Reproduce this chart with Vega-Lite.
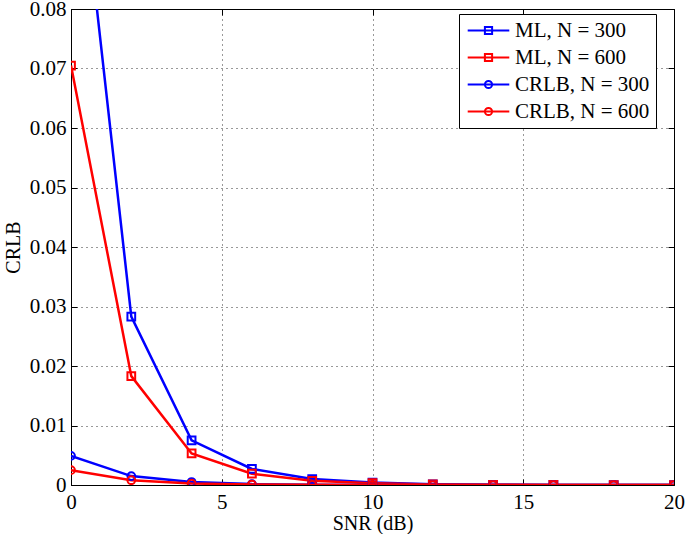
{
  "$schema": "https://vega.github.io/schema/vega-lite/v6.json",
  "autosize": {"type": "none"},
  "padding": {"left": 71, "top": 9, "right": 11, "bottom": 49},
  "width": 603,
  "height": 476,
  "background": "white",
  "config": {
    "font": "Liberation Serif",
    "view": {"stroke": "black", "strokeWidth": 1},
    "axis": {
      "labelFont": "Liberation Serif",
      "titleFont": "Liberation Serif",
      "labelFontSize": 21,
      "titleFontSize": 20,
      "titleFontWeight": "normal",
      "labelColor": "black",
      "titleColor": "black",
      "labelFlush": false,
      "labelOverlap": false,
      "domain": false,
      "tickColor": "black",
      "tickSize": -6,
      "grid": true,
      "gridColor": "black",
      "gridDash": [1, 4],
      "gridOpacity": 0.8
    }
  },
  "data": {
    "values": [
      {"series": "ML, N = 300", "snr": 0, "v": 0.119},
      {"series": "ML, N = 300", "snr": 2, "v": 0.0283},
      {"series": "ML, N = 300", "snr": 4, "v": 0.0075},
      {"series": "ML, N = 300", "snr": 6, "v": 0.0027},
      {"series": "ML, N = 300", "snr": 8, "v": 0.001},
      {"series": "ML, N = 300", "snr": 10, "v": 0.0004},
      {"series": "ML, N = 300", "snr": 12, "v": 0.00012},
      {"series": "ML, N = 300", "snr": 14, "v": 0.00004},
      {"series": "ML, N = 300", "snr": 16, "v": 0.00001},
      {"series": "ML, N = 300", "snr": 18, "v": 0.0},
      {"series": "ML, N = 300", "snr": 20, "v": 0.0},
      {"series": "ML, N = 600", "snr": 0, "v": 0.0705},
      {"series": "ML, N = 600", "snr": 2, "v": 0.0183},
      {"series": "ML, N = 600", "snr": 4, "v": 0.0053},
      {"series": "ML, N = 600", "snr": 6, "v": 0.0019},
      {"series": "ML, N = 600", "snr": 8, "v": 0.0007},
      {"series": "ML, N = 600", "snr": 10, "v": 0.0003},
      {"series": "ML, N = 600", "snr": 12, "v": 0.0001},
      {"series": "ML, N = 600", "snr": 14, "v": 0.00003},
      {"series": "ML, N = 600", "snr": 16, "v": 0.00001},
      {"series": "ML, N = 600", "snr": 18, "v": 0.0},
      {"series": "ML, N = 600", "snr": 20, "v": 0.0},
      {"series": "CRLB, N = 300", "snr": 0, "v": 0.0049},
      {"series": "CRLB, N = 300", "snr": 2, "v": 0.0015},
      {"series": "CRLB, N = 300", "snr": 4, "v": 0.0005},
      {"series": "CRLB, N = 300", "snr": 6, "v": 0.00015},
      {"series": "CRLB, N = 300", "snr": 8, "v": 0.00005},
      {"series": "CRLB, N = 300", "snr": 10, "v": 0.00002},
      {"series": "CRLB, N = 300", "snr": 12, "v": 0.0},
      {"series": "CRLB, N = 300", "snr": 14, "v": 0.0},
      {"series": "CRLB, N = 300", "snr": 16, "v": 0.0},
      {"series": "CRLB, N = 300", "snr": 18, "v": 0.0},
      {"series": "CRLB, N = 300", "snr": 20, "v": 0.0},
      {"series": "CRLB, N = 600", "snr": 0, "v": 0.0025},
      {"series": "CRLB, N = 600", "snr": 2, "v": 0.0008},
      {"series": "CRLB, N = 600", "snr": 4, "v": 0.00025},
      {"series": "CRLB, N = 600", "snr": 6, "v": 0.00008},
      {"series": "CRLB, N = 600", "snr": 8, "v": 0.00003},
      {"series": "CRLB, N = 600", "snr": 10, "v": 0.00001},
      {"series": "CRLB, N = 600", "snr": 12, "v": 0.0},
      {"series": "CRLB, N = 600", "snr": 14, "v": 0.0},
      {"series": "CRLB, N = 600", "snr": 16, "v": 0.0},
      {"series": "CRLB, N = 600", "snr": 18, "v": 0.0},
      {"series": "CRLB, N = 600", "snr": 20, "v": 0.0}
    ]
  },
  "resolve": {"axis": {"x": "independent", "y": "independent"}},
  "layer": [
    {
      "mark": {"type": "line", "strokeWidth": 2.5, "clip": true},
      "encoding": {
        "x": {
          "field": "snr", "type": "quantitative",
          "scale": {"domain": [0, 20], "nice": false, "zero": false},
          "axis": {"values": [0, 5, 10, 15, 20], "title": "SNR (dB)", "labelPadding": 12, "titlePadding": 1}
        },
        "y": {
          "field": "v", "type": "quantitative",
          "scale": {"domain": [0, 0.08], "nice": false},
          "axis": {
            "values": [0, 0.01, 0.02, 0.03, 0.04, 0.05, 0.06, 0.07, 0.08],
            "labelExpr": "datum.value == 0 ? '0' : format(datum.value, '.2f')",
            "title": "CRLB", "labelPadding": 11, "titlePadding": 6
          }
        },
        "color": {
          "field": "series", "type": "nominal",
          "scale": {
            "domain": ["ML, N = 300", "ML, N = 600", "CRLB, N = 300", "CRLB, N = 600"],
            "range": ["#0000ff", "#ff0000", "#0000ff", "#ff0000"]
          },
          "legend": {
            "title": null,
            "orient": "none",
            "legendX": 388,
            "legendY": 5,
            "fillColor": "white",
            "strokeColor": "black",
            "padding": 6,
            "labelFont": "Liberation Serif",
            "labelFontSize": 21,
            "labelColor": "black",
            "labelOffset": 16,
            "rowPadding": 5,
            "symbolSize": 256,
            "symbolStrokeWidth": 2,
            "symbolOffset": 13,
            "encode": {
              "symbols": {
                "update": {
                  "shape": {"signal": "indexof(datum.value, 'ML') == 0 ? 'M-2.6,0H2.6M-0.45,-0.45H0.45V0.45H-0.45Z' : 'M-2.6,0H2.6M0.45,0A0.45,0.45 0 1,1 -0.45,0A0.45,0.45 0 1,1 0.45,0'"},
                  "fill": {"value": "transparent"}
                }
              }
            }
          }
        }
      }
    },
    {
      "transform": [{"filter": "indexof(datum.series, 'ML') == 0"}],
      "mark": {"type": "point", "shape": "square", "filled": false, "strokeWidth": 2, "size": 60, "opacity": 1, "clip": true},
      "encoding": {
        "x": {"field": "snr", "type": "quantitative", "axis": {"orient": "top", "values": [0, 5, 10, 15, 20], "labels": false, "title": null, "grid": false}},
        "y": {"field": "v", "type": "quantitative", "axis": {"orient": "right", "values": [0, 0.01, 0.02, 0.03, 0.04, 0.05, 0.06, 0.07, 0.08], "labels": false, "title": null, "grid": false}},
        "color": {"field": "series", "type": "nominal"}
      }
    },
    {
      "transform": [{"filter": "indexof(datum.series, 'CRLB') == 0"}],
      "mark": {"type": "point", "shape": "circle", "filled": false, "strokeWidth": 2, "size": 60, "opacity": 1, "clip": true},
      "encoding": {
        "x": {"field": "snr", "type": "quantitative", "axis": null},
        "y": {"field": "v", "type": "quantitative", "axis": null},
        "color": {"field": "series", "type": "nominal"}
      }
    }
  ]
}
